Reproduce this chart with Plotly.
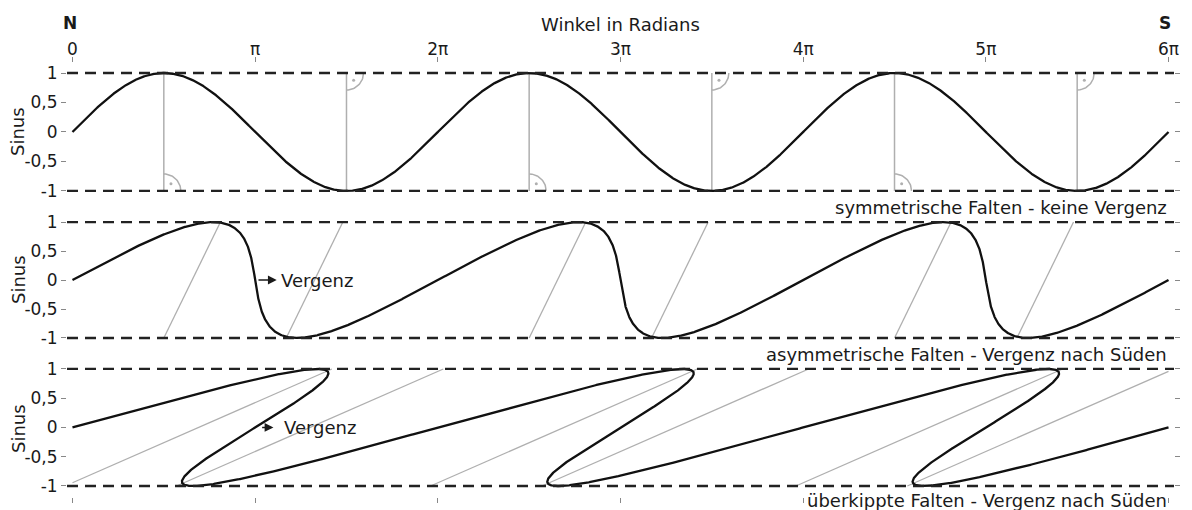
import numpy as np
import plotly.graph_objects as go

PI = np.pi

# ---- data -----------------------------------------------------------------
# x axis: angle in radians, ticks at multiples of pi
tick_multiples = [0, 1, 2, 3, 4, 5, 6]
tick_labels = ["0", "π", "2π", "3π", "4π", "5π", "6π"]
x_max = 6 * PI

# y axis ticks (German decimal comma)
y_ticks = [-1, -0.5, 0, 0.5, 1]
y_tick_labels = ["-1", "-0,5", "0", "0,5", "1"]

# horizontal shear of the sine wave per panel (in multiples of pi)
shear_sym = 0.0
shear_asym = 0.27
shear_over = 0.84

# symmetric folds: axial traces (multiples of pi) and hinge type (+1 crest, -1 trough)
sym_axes = [0.5, 1.5, 2.5, 3.5, 4.5, 5.5]
sym_hinge = [1, -1, 1, -1, 1, -1]

# asymmetric folds: axial traces per period, (x at y=-1, x at y=+1) in multiples of pi
asym_axes = [(0.50, 0.81), (1.17, 1.48)]
# overturned folds: axial traces per period
over_axes = [(-0.04, 1.42), (0.57, 2.03)]
periods = [0, 2, 4]

panel_labels = [
    "symmetrische Falten - keine Vergenz",
    "asymmetrische Falten - Vergenz nach Süden",
    "überkippte Falten - Vergenz nach Süden",
]

# ---- page geometry ----------------------------------------------------------
W, H = 1192, 510
L, R = 67, 18
FONT = "DejaVu Sans"
TXT = "#1a1a1a"
GRAY = "rgb(175,175,175)"
CURVE = "#111111"


def xp(px):
    return (px - L) / (W - L - R)


def yp(py):
    return 1 - py / H


x_range = [-0.03 * PI, 6.03 * PI]
y_ranges = [[-1.08, 1.17], [-1.08, 1.08], [-1.19, 1.08]]
y_domains = [[0.6163, 0.8765], [0.3282, 0.5737], [0.0253, 0.2857]]

t = np.linspace(0, x_max, 3000)


def fold(shear):
    return t + shear * PI * np.sin(t), np.sin(t)


def clipped_segment(x0, x1):
    """Line from (x0,-1) to (x1,1), clipped to 0 <= x <= 6pi."""
    y0, y1 = -1.0, 1.0
    def y_at(x):
        return -1 + 2 * (x - x0) / (x1 - x0)
    if x0 < 0:
        x0, y0 = 0.0, y_at(0.0)
    if x1 > x_max:
        x1, y1 = x_max, y_at(x_max)
    return [x0, x1, None], [y0, y1, None]


fig = go.Figure()

# ---- panel 1: symmetric folds --------------------------------------------
gx, gy = [], []
for a in sym_axes:
    gx += [a * PI, a * PI, None]
    gy += [-1, 1, None]
fig.add_trace(go.Scatter(x=gx, y=gy, mode="lines", line=dict(color=GRAY, width=1.5),
                         xaxis="x", yaxis="y", hoverinfo="skip"))

# right-angle markers at the foot of each axial trace
rx = 17 / 182.5 * PI
ry = 17 / 59.0
ang = np.linspace(0, PI / 2, 30)
ax_, ay_, dx_, dy_ = [], [], [], []
for a, h in zip(sym_axes, sym_hinge):
    cx = a * PI
    cy = -1 if h > 0 else 1
    s = 1 if h > 0 else -1
    ax_ += list(cx + rx * np.cos(ang)) + [None]
    ay_ += list(cy + s * ry * np.sin(ang)) + [None]
    dx_.append(cx + 0.42 * rx)
    dy_.append(cy + s * 0.42 * ry)
fig.add_trace(go.Scatter(x=ax_, y=ay_, mode="lines", line=dict(color=GRAY, width=1.5),
                         xaxis="x", yaxis="y", hoverinfo="skip"))
fig.add_trace(go.Scatter(x=dx_, y=dy_, mode="markers", marker=dict(color=GRAY, size=3),
                         xaxis="x", yaxis="y", hoverinfo="skip"))

x1c, y1c = fold(shear_sym)
fig.add_trace(go.Scatter(x=x1c, y=y1c, mode="lines", line=dict(color=CURVE, width=2.3),
                         xaxis="x", yaxis="y", hoverinfo="skip"))

# ---- panel 2: asymmetric folds -------------------------------------------
gx, gy = [], []
for p in periods:
    for b, tp in asym_axes:
        sx, sy = clipped_segment((b + p) * PI, (tp + p) * PI)
        gx += sx
        gy += sy
fig.add_trace(go.Scatter(x=gx, y=gy, mode="lines", line=dict(color=GRAY, width=1.3),
                         xaxis="x2", yaxis="y2", hoverinfo="skip"))
x2c, y2c = fold(shear_asym)
fig.add_trace(go.Scatter(x=x2c, y=y2c, mode="lines", line=dict(color=CURVE, width=2.3),
                         xaxis="x2", yaxis="y2", hoverinfo="skip"))

# ---- panel 3: overturned folds -------------------------------------------
gx, gy = [], []
for p in periods:
    for b, tp in over_axes:
        sx, sy = clipped_segment((b + p) * PI, (tp + p) * PI)
        gx += sx
        gy += sy
fig.add_trace(go.Scatter(x=gx, y=gy, mode="lines", line=dict(color=GRAY, width=1.3),
                         xaxis="x3", yaxis="y3", hoverinfo="skip"))
x3c, y3c = fold(shear_over)
fig.add_trace(go.Scatter(x=x3c, y=y3c, mode="lines", line=dict(color=CURVE, width=2.3),
                         xaxis="x3", yaxis="y3", hoverinfo="skip"))

# ---- dashed envelope lines at +1 / -1 -------------------------------------
shapes = []
for xr, yr in [("x", "y"), ("x2", "y2"), ("x3", "y3")]:
    for yv in (1, -1):
        shapes.append(dict(type="line", xref=xr, yref=yr, x0=x_range[0], x1=x_range[1],
                           y0=yv, y1=yv, line=dict(color="#222222", width=2.3, dash="11px,7px")))

# ---- annotations -----------------------------------------------------------
def label(text, x, y, xref="paper", yref="paper", size=18, xanchor="center", **kw):
    return dict(text=text, x=x, y=y, xref=xref, yref=yref, xanchor=xanchor,
                yanchor="middle", showarrow=False,
                font=dict(size=size, color=TXT, family=FONT), **kw)


ann = [
    label("<b>N</b>", xp(70), yp(23), size=17),
    label("<b>S</b>", xp(1165), yp(23), size=17),
    label("Winkel in Radians", 3 * PI, yp(24), xref="x"),
]
for lab, py in zip(panel_labels, [207, 354, 500]):
    ann.append(label(lab, x_max, yp(py), xref="x", xanchor="right"))
for py in [132, 280, 429]:
    ann.append(label("Sinus", xp(18), yp(py), textangle=-90))

# vergence arrows
for xr, yr, head, tail, txt_x in [("x2", "y2", 1.118, 1.01, 1.13), ("x3", "y3", 1.10, 1.03, 1.148)]:
    ann.append(dict(text="", x=head * PI, y=0, xref=xr, yref=yr, ax=tail * PI, ay=0,
                    axref=xr, ayref=yr, showarrow=True, arrowhead=2, arrowsize=1.1,
                    arrowwidth=1.6, arrowcolor=TXT))
    ann.append(label("Vergenz", txt_x * PI, 0, xref=xr, yref=yr, xanchor="left"))

tickvals = [m * PI for m in tick_multiples]

common_y = dict(tickvals=y_ticks, ticktext=y_tick_labels, ticks="outside", ticklen=5,
                tickcolor="#888888", tickwidth=1, mirror="ticks", showgrid=False,
                zeroline=False, showline=False, automargin=False,
                tickfont=dict(size=17, color=TXT, family=FONT))

fig.update_layout(
    width=W, height=H,
    margin=dict(l=L, r=R, t=0, b=0, autoexpand=False),
    paper_bgcolor="white", plot_bgcolor="white",
    showlegend=False,
    font=dict(family=FONT, color=TXT),
    xaxis=dict(domain=[0, 1], range=x_range, anchor="y", side="top", tickvals=tickvals,
               ticktext=tick_labels, ticks="outside", ticklen=5, tickcolor="#888888",
               ticklabelstandoff=-5,
               showgrid=False, zeroline=False, showline=False, automargin=False,
               tickfont=dict(size=17, color=TXT, family=FONT)),
    xaxis2=dict(domain=[0, 1], range=x_range, anchor="y2", matches="x", showticklabels=False,
                ticks="", showgrid=False, zeroline=False, showline=False, automargin=False),
    xaxis3=dict(domain=[0, 1], range=x_range, anchor="y3", matches="x", showticklabels=False,
                tickvals=tickvals, ticks="outside", ticklen=5, tickcolor="#888888",
                showgrid=False, zeroline=False, showline=False, automargin=False),
    yaxis=dict(domain=y_domains[0], range=y_ranges[0], anchor="x", **common_y),
    yaxis2=dict(domain=y_domains[1], range=y_ranges[1], anchor="x2", **common_y),
    yaxis3=dict(domain=y_domains[2], range=y_ranges[2], anchor="x3", **common_y),
    shapes=shapes,
    annotations=ann,
)

fig.write_html("out.html")
